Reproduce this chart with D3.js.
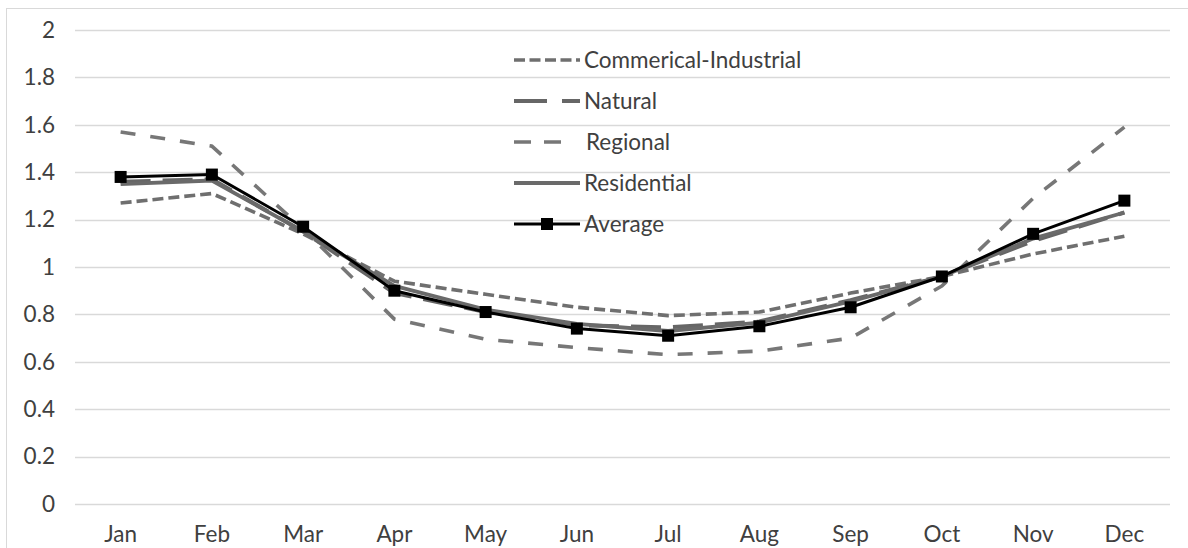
<!DOCTYPE html>
<html>
<head>
<meta charset="utf-8">
<script src="https://cdn.jsdelivr.net/npm/d3@7"></script>
<style>
  html, body { margin: 0; padding: 0; background: #fff; }
  svg { display: block; }
  text { font-family: Lato, "Open Sans", sans-serif; }
</style>
</head>
<body>
<svg id="chart" width="1188" height="548"></svg>
<script>
const months = ["Jan","Feb","Mar","Apr","May","Jun","Jul","Aug","Sep","Oct","Nov","Dec"];
const yTicks = [0, 0.2, 0.4, 0.6, 0.8, 1, 1.2, 1.4, 1.6, 1.8, 2];
const commercialIndustrial = [1.27, 1.31, 1.14, 0.94, 0.885, 0.83, 0.795, 0.81, 0.89, 0.96, 1.055, 1.13];
const natural              = [1.36, 1.37, 1.15, 0.89, 0.81, 0.755, 0.745, 0.77, 0.86, 0.96, 1.11, 1.23];
const regional             = [1.57, 1.51, 1.16, 0.78, 0.695, 0.66, 0.63, 0.645, 0.70, 0.92, 1.29, 1.59];
const residential          = [1.35, 1.365, 1.15, 0.92, 0.82, 0.76, 0.73, 0.765, 0.855, 0.96, 1.12, 1.23];
const average              = [1.38, 1.39, 1.17, 0.90, 0.81, 0.74, 0.71, 0.75, 0.83, 0.96, 1.14, 1.28];
const seriesNames = ["Commerical-Industrial", "Natural", "Regional", "Residential", "Average"];

const series = [
  { name: seriesNames[0], values: commercialIndustrial, color: "#6f6f6f", width: 3.6, dash: "11,5", legendDash: "11,4.5", marker: false },
  { name: seriesNames[1], values: natural, color: "#666666", width: 4, dash: "30,12", legendDash: "33,15", marker: false },
  { name: seriesNames[2], values: regional, color: "#777777", width: 3.6, dash: "15,15", legendDash: "17,13,17,40", marker: false },
  { name: seriesNames[3], values: residential, color: "#6a6a6a", width: 3.8, dash: null, legendDash: null, marker: false },
  { name: seriesNames[4], values: average, color: "#000000", width: 3, dash: null, legendDash: null, marker: true }
];

const svg = d3.select("#chart");
// outer border
svg.append("rect").attr("x", 6.5).attr("y", 8.5).attr("width", 1190).attr("height", 560)
  .attr("fill", "none").attr("stroke", "#d9d9d9").attr("stroke-width", 1);

const x = d3.scaleBand().domain(months).range([75, 1170]);
const y = d3.scaleLinear().domain([0, 2]).range([504, 30]);

// gridlines
svg.append("g").selectAll("line").data(yTicks).join("line")
  .attr("x1", 75).attr("x2", 1170)
  .attr("y1", d => Math.round(y(d)) + 0.5).attr("y2", d => Math.round(y(d)) + 0.5)
  .attr("stroke", "#d9d9d9").attr("stroke-width", 1.3);

// y axis
const yAxis = svg.append("g").attr("transform", "translate(75,0)")
  .call(d3.axisLeft(y).tickValues(yTicks).tickSize(0).tickPadding(20).tickFormat(d => String(d)));
yAxis.select(".domain").remove();
yAxis.selectAll("text").attr("font-size", 22.5).attr("fill", "#404040");

// x axis
const xAxis = svg.append("g").attr("transform", "translate(0,504)")
  .call(d3.axisBottom(x).tickSize(0).tickPadding(22));
xAxis.select(".domain").remove();
xAxis.selectAll("text").attr("font-size", 22.5).attr("fill", "#404040");

const line = d3.line().x((d, i) => x(months[i]) + x.bandwidth() / 2).y(d => y(d));

series.forEach(s => {
  svg.append("path").datum(s.values)
    .attr("d", line)
    .attr("fill", "none")
    .attr("stroke", s.color)
    .attr("stroke-width", s.width)
    .attr("stroke-dasharray", s.dash)
    .attr("stroke-linejoin", "round");
  if (s.marker) {
    svg.append("g").selectAll("rect").data(s.values).join("rect")
      .attr("x", (d, i) => x(months[i]) + x.bandwidth() / 2 - 6)
      .attr("y", d => y(d) - 6)
      .attr("width", 12).attr("height", 12)
      .attr("fill", "#000");
  }
});

// legend
const legend = svg.append("g");
const lgY = d3.scalePoint().domain(seriesNames).range([60, 224]);
series.forEach(s => {
  const yy = lgY(s.name);
  legend.append("line")
    .attr("x1", 514).attr("x2", 580).attr("y1", yy).attr("y2", yy)
    .attr("stroke", s.color).attr("stroke-width", s.width)
    .attr("stroke-dasharray", s.legendDash);
  if (s.marker) {
    legend.append("rect").attr("x", 541).attr("y", yy - 6).attr("width", 12).attr("height", 12).attr("fill", "#000");
  }
  legend.append("text").attr("x", s.name === "Regional" ? 586 : 584).attr("y", yy).attr("dy", "0.35em")
    .attr("font-size", 22.5).attr("fill", "#404040").text(s.name);
});
</script>
</body>
</html>
